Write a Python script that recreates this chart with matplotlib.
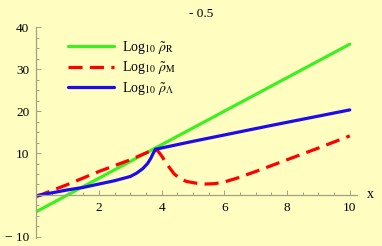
import matplotlib
matplotlib.use("Agg")
import matplotlib.pyplot as plt
from matplotlib.ticker import MultipleLocator, FixedLocator

# values
x_r = [0, 10]
rho_r = [-4, 36]

x_m = [0, 1, 2, 3, 3.8, 3.9, 4.0, 4.2, 4.4, 4.6, 4.8, 5.1, 5.4, 5.7, 6.0,
       6.4, 7.0, 7.5, 8, 9, 10]
rho_m = [-0.4, 2.5, 5.6, 8.4, 11.0, 10.3, 9.3, 7.0, 5.0, 3.8, 3.2, 2.8, 2.6,
         2.7, 3.1, 4.0, 5.6, 7.0, 8.4, 11.2, 14.1]

x_a = [0, 0.5, 1, 1.5, 2, 2.5, 3, 3.2, 3.4, 3.55, 3.65, 3.72, 3.8, 5, 7.5, 10]
rho_a = [-0.2, 0.5, 1.2, 1.8, 2.6, 3.4, 4.4, 5.2, 6.3, 7.5, 8.7, 9.8, 10.9,
         12.8, 16.6, 20.3]

y_ticks = [-10, 10, 20, 30, 40]
y_labels = ["\u2212 10", "10", "20", "30", "40"]
x_ticks = [2, 4, 6, 8, 10]

title = "- 0.5"
labels = [r"Log$_{10}\ \tilde{\rho}_{\mathrm{R}}$",
          r"Log$_{10}\ \tilde{\rho}_{\mathrm{M}}$",
          r"Log$_{10}\ \tilde{\rho}_{\Lambda}$"]

plt.rcParams["font.family"] = ["Liberation Serif", "DejaVu Serif"]
plt.rcParams["mathtext.fontset"] = "stix"

bg = "#fffdbf"
axis_col = "#a3a383"

fig = plt.figure(figsize=(3.82, 2.46), dpi=100, facecolor=bg)
ax = fig.add_axes([0.095, 0.034, 0.8395, 0.858])
ax.set_facecolor(bg)
ax.patch.set_alpha(0)

ax.plot(x_r, rho_r, color="#3cf022", lw=2.3, label=labels[0],
        solid_capstyle="round")
ax.plot(x_m, rho_m, color="#ff0000", lw=2.3, label=labels[1],
        linestyle=(0, (4.4, 2.3)), dash_capstyle="butt")
ax.plot(x_a, rho_a, color="#1e0aee", lw=2.3, label=labels[2],
        solid_capstyle="round")

ax.set_xlim(0, 10.23)
ax.set_ylim(-10.2, 40.2)

for side in ["top", "right"]:
    ax.spines[side].set_visible(False)
ax.spines["left"].set_position(("data", 0))
ax.spines["bottom"].set_position(("data", 0))
for side in ["left", "bottom"]:
    ax.spines[side].set_color(axis_col)
    ax.spines[side].set_linewidth(0.9)

ax.xaxis.set_major_locator(FixedLocator(x_ticks))
ax.xaxis.set_minor_locator(MultipleLocator(0.5))
ax.yaxis.set_major_locator(FixedLocator(y_ticks))
ax.yaxis.set_minor_locator(MultipleLocator(2.5))
ax.set_yticklabels(y_labels)

ax.tick_params(axis="both", which="both", direction="in", color=axis_col,
               labelsize=9.5, width=0.7)
ax.tick_params(axis="both", which="major", length=3.5)
ax.tick_params(axis="both", which="minor", length=2)
ax.tick_params(axis="x", pad=5)
ax.tick_params(axis="y", pad=5)

ax.text(10.65, 0, "x", fontsize=10, va="center", ha="center")
fig.text(201 / 382, 1 - 14 / 246, title, fontsize=9.5, ha="center",
         va="center")

leg = ax.legend(loc="upper left", bbox_to_anchor=(68 / 382, 1 - 39 / 246),
                bbox_transform=fig.transFigure, frameon=False, fontsize=10,
                handlelength=3.3, handletextpad=0.6, labelspacing=0.25,
                borderpad=0, borderaxespad=0)

fig.savefig("out.png", dpi=100, facecolor=bg)
